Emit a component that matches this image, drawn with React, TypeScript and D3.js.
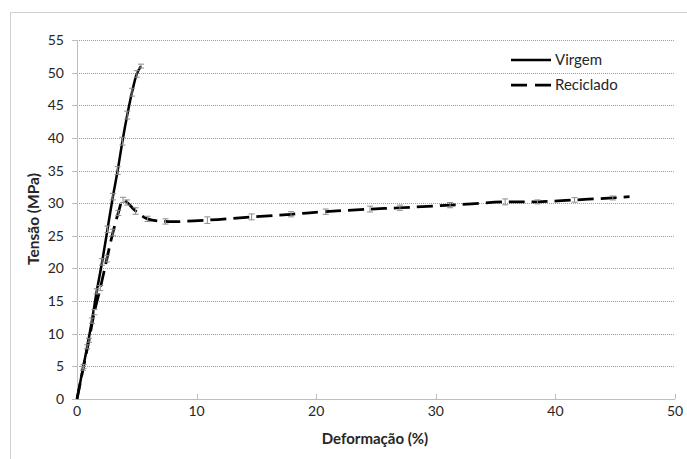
import React from "react";
import * as d3 from "d3";

const xTicks = [0, 10, 20, 30, 40, 50];
const yTicks = [0, 5, 10, 15, 20, 25, 30, 35, 40, 45, 50, 55];

const virgemX = [0, 0.5, 0.85, 1.25, 1.65, 2.1, 2.55, 3.0, 3.4, 3.8, 4.2, 4.6, 5.0, 5.35];
const virgemY = [0, 4.7, 8, 12, 16.5, 21, 26, 31, 35, 39.5, 43.5, 47, 49.8, 51];
const virgemErr = [0, 0.3, 0.3, 0.4, 0.4, 0.5, 0.5, 0.5, 0.6, 0.6, 0.6, 0.6, 0.5, 0.3];

const recicladoX = [0, 0.55, 1.0, 1.45, 1.95, 2.5, 3.0, 3.45, 3.85, 4.2, 4.9, 5.9, 7.4, 10.9, 14.6, 17.9, 20.8, 24.5, 27, 31.2, 35.8, 38.5, 41.6, 44.8, 46.2];
const recicladoY = [0, 5, 9, 13.3, 17, 21.5, 25.5, 28.5, 30.5, 30.1, 28.8, 27.6, 27.2, 27.4, 27.9, 28.3, 28.7, 29.1, 29.3, 29.7, 30.2, 30.2, 30.5, 30.8, 31.0];
const recicladoErr = [0, 0.3, 0.3, 0.4, 0.4, 0.5, 0.5, 0.4, 0.4, 0.4, 0.5, 0.4, 0.4, 0.5, 0.45, 0.4, 0.4, 0.45, 0.4, 0.4, 0.45, 0.3, 0.35, 0.3, 0];

const seriesNames = ["Virgem", "Reciclado"];

export default function App() {
  const W = 687, H = 459;
  const x = d3.scaleLinear().domain([0, 50]).range([77, 675]);
  const y = d3.scaleLinear().domain([0, 55]).range([399, 40]);
  const font = "Lato, 'Open Sans', sans-serif";
  const txt = "#262626";

  const line = d3
    .line<[number, number]>()
    .x((d) => x(d[0]))
    .y((d) => y(d[1]))
    .curve(d3.curveCatmullRom.alpha(0.5));

  const vPts = virgemX.map((v, i) => [v, virgemY[i]] as [number, number]);
  const rPts = recicladoX.map((v, i) => [v, recicladoY[i]] as [number, number]);

  const errBars = (xs: number[], ys: number[], es: number[], key: string) =>
    xs.map((xv, i) => {
      if (!es[i]) return null;
      const cx = x(xv);
      const y1 = y(ys[i] + es[i]);
      const y2 = y(ys[i] - es[i]);
      return (
        <g key={key + i} stroke="#8c8c8c" strokeWidth={1}>
          <line x1={cx} x2={cx} y1={y1} y2={y2} />
          <line x1={cx - 3} x2={cx + 3} y1={y1} y2={y1} />
          <line x1={cx - 3} x2={cx + 3} y1={y2} y2={y2} />
        </g>
      );
    });

  return (
    <svg
      width={W}
      height={H}
      style={{ position: "absolute", left: 0, top: 0, background: "#fff" }}
    >
      <rect x={0} y={0} width={W} height={H} fill="#fff" />
      <rect x={10.5} y={12.5} width={720} height={500} fill="none" stroke="#d0d0d0" strokeWidth={1} />
      {yTicks.filter((t) => t > 0).map((t) => (
        <line
          key={"g" + t}
          x1={x(0)}
          x2={x(50)}
          y1={Math.round(y(t)) + 0.5}
          y2={Math.round(y(t)) + 0.5}
          stroke="#9a9a9a"
          strokeWidth={1}
          strokeDasharray="1,1"
        />
      ))}
      <line x1={x(0) + 0.5} x2={x(0) + 0.5} y1={y(55)} y2={y(0)} stroke="#bdbdbd" />
      <line x1={x(0)} x2={x(50)} y1={Math.round(y(0)) + 0.5} y2={Math.round(y(0)) + 0.5} stroke="#bdbdbd" />
      {yTicks.map((t) => (
        <g key={"yt" + t}>
          <line x1={72} x2={x(0)} y1={Math.round(y(t)) + 0.5} y2={Math.round(y(t)) + 0.5} stroke="#bdbdbd" />
          <text x={64} y={y(t)} dy="0.36em" textAnchor="end" fontFamily={font} fontSize={14} fill={txt}>
            {t}
          </text>
        </g>
      ))}
      {xTicks.map((t) => (
        <g key={"xt" + t}>
          <line x1={Math.round(x(t)) + 0.5} x2={Math.round(x(t)) + 0.5} y1={y(0) - 5} y2={y(0)} stroke="#bdbdbd" />
          <text x={x(t)} y={416} textAnchor="middle" fontFamily={font} fontSize={14} fill={txt}>
            {t}
          </text>
        </g>
      ))}
      <text x={375} y={444} textAnchor="middle" fontFamily={font} fontSize={15} fontWeight="bold" fill={txt}>
        Deformação (%)
      </text>
      <text
        transform="translate(39,219) rotate(-90)"
        textAnchor="middle"
        fontFamily={font}
        fontSize={15.5}
        fontWeight="bold"
        fill={txt}
      >
        Tensão (MPa)
      </text>

      <path d={line(rPts) || ""} fill="none" stroke="#000" strokeWidth={2.75} strokeDasharray="16,7" />
      <path d={line(vPts) || ""} fill="none" stroke="#000" strokeWidth={2.5} />
      {errBars(virgemX, virgemY, virgemErr, "v")}
      {errBars(recicladoX, recicladoY, recicladoErr, "r")}

      <line x1={511} x2={551} y1={60} y2={60} stroke="#000" strokeWidth={2.5} />
      <text x={555} y={60} dy="0.36em" fontFamily={font} fontSize={15} fill={txt}>
        {seriesNames[0]}
      </text>
      <line x1={511} x2={551} y1={85} y2={85} stroke="#000" strokeWidth={2.75} strokeDasharray="16,8" />
      <text x={555} y={85} dy="0.36em" fontFamily={font} fontSize={15} fill={txt}>
        {seriesNames[1]}
      </text>
    </svg>
  );
}
